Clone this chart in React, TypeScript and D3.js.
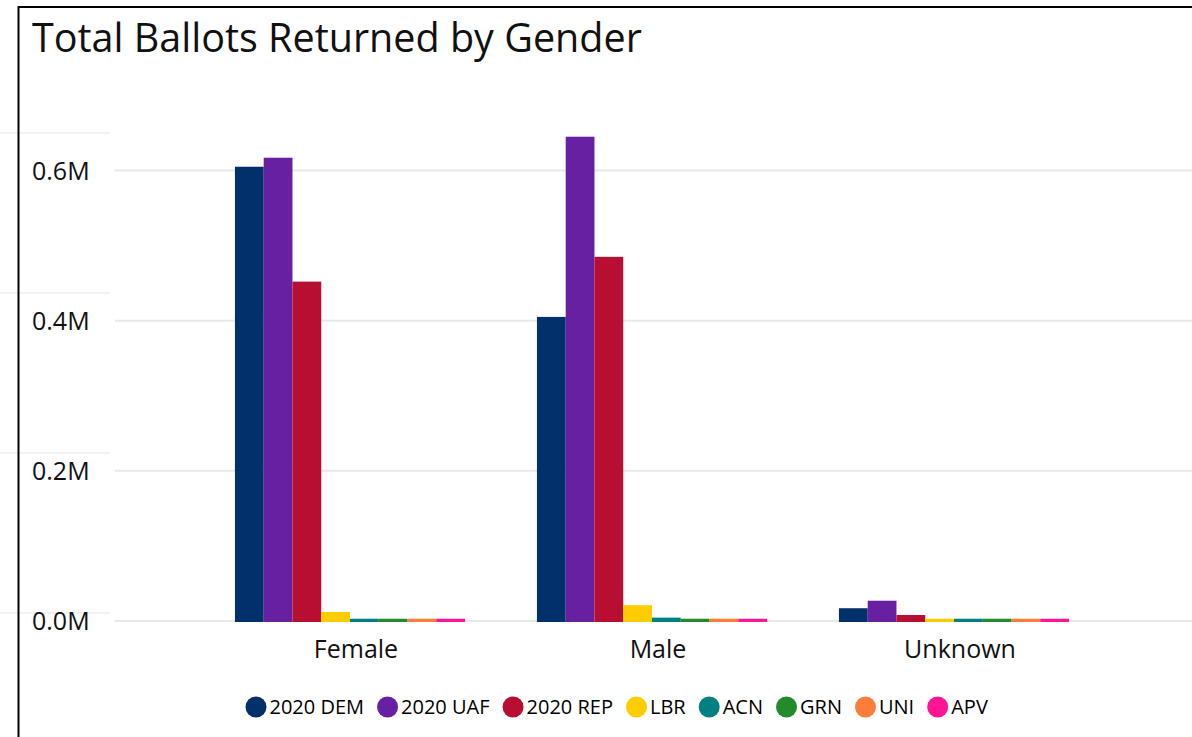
import React, { useRef, useEffect } from 'react';
import * as d3 from 'd3';

const categories = ['Female', 'Male', 'Unknown'];
const seriesNames = ['2020 DEM', '2020 UAF', '2020 REP', 'LBR', 'ACN', 'GRN', 'UNI', 'APV'];
const seriesColors = ['#01306b', '#6820a3', '#b80e31', '#ffcc00', '#008080', '#238b2b', '#ff7d3b', '#ff1493'];
// values in millions, one array per gender, in series order
const femaleValues = [0.605, 0.617, 0.452, 0.012, 0.003, 0.003, 0.003, 0.003];
const maleValues = [0.405, 0.645, 0.485, 0.021, 0.0045, 0.003, 0.003, 0.003];
const unknownValues = [0.017, 0.027, 0.008, 0.003, 0.003, 0.003, 0.003, 0.003];
const yTicks = [0, 0.2, 0.4, 0.6];

const FONT = '"Open Sans", sans-serif';

const App = () => {
  const svgRef = useRef(null);

  useEffect(() => {
    const width = 1192;
    const height = 737;
    const svg = d3.select(svgRef.current);
    svg.selectAll('*').remove();
    svg.attr('width', width).attr('height', height);

    const values = [femaleValues, maleValues, unknownValues];

    // faint lines from the visual behind the frame
    svg.append('g')
      .selectAll('line')
      .data([133, 293, 453, 613])
      .join('line')
      .attr('x1', 0)
      .attr('x2', 110)
      .attr('y1', d => d)
      .attr('y2', d => d)
      .attr('stroke', '#ececec')
      .attr('stroke-width', 1.5);

    const x0 = d3.scaleBand()
      .domain(categories)
      .range([199, 1105])
      .paddingInner(0.238)
      .paddingOuter(0.119);

    const x1 = d3.scaleBand()
      .domain(seriesNames)
      .range([0, x0.bandwidth()]);

    const y = d3.scaleLinear()
      .domain([0, 0.6])
      .range([621, 170.5]);

    // gridlines
    svg.append('g')
      .selectAll('line')
      .data(yTicks)
      .join('line')
      .attr('x1', 115)
      .attr('x2', width)
      .attr('y1', d => y(d))
      .attr('y2', d => y(d))
      .attr('stroke', '#e8e8e8')
      .attr('stroke-width', 2);

    // y labels
    svg.append('g')
      .selectAll('text')
      .data(yTicks)
      .join('text')
      .attr('x', 32)
      .attr('y', d => y(d) + 9)
      .attr('font-family', FONT)
      .attr('font-size', 25)
      .attr('fill', '#111')
      .text(d => d.toFixed(1) + 'M');

    // bars
    const groups = svg.append('g')
      .selectAll('g')
      .data(categories)
      .join('g')
      .attr('transform', d => `translate(${x0(d)},0)`);

    groups.selectAll('rect')
      .data((d, i) => seriesNames.map((s, j) => ({ s, v: values[i][j], c: seriesColors[j] })))
      .join('rect')
      .attr('x', d => x1(d.s))
      .attr('width', x1.bandwidth())
      .attr('y', d => y(d.v))
      .attr('height', d => y(0) - y(d.v) + 1)
      .attr('fill', d => d.c);

    // x labels (sit a little right of the group centre, as in the original)
    svg.append('g')
      .selectAll('text')
      .data(categories)
      .join('text')
      .attr('x', d => x0(d) + x0.bandwidth() / 2 + 6)
      .attr('y', 658)
      .attr('text-anchor', 'middle')
      .attr('font-family', FONT)
      .attr('font-size', 25)
      .attr('fill', '#111')
      .text(d => d);

    // title
    svg.append('text')
      .attr('x', 32)
      .attr('y', 52)
      .attr('font-family', FONT)
      .attr('font-size', 39.5)
      .attr('fill', '#111')
      .text('Total Ballots Returned by Gender');

    // legend
    const legend = svg.append('g');
    const r = 10.5;
    let cx = 256;
    seriesNames.forEach((name, i) => {
      legend.append('circle')
        .attr('cx', cx)
        .attr('cy', 707)
        .attr('r', r)
        .attr('fill', seriesColors[i]);
      const t = legend.append('text')
        .attr('x', cx + r + 3)
        .attr('y', 714)
        .attr('font-family', FONT)
        .attr('font-size', 20)
        .attr('fill', '#000')
        .text(name);
      const w = t.node().getComputedTextLength();
      cx = cx + r + 3 + w + 13 + r;
    });

    // frame
    svg.append('path')
      .attr('d', `M18.5,${height} L18.5,7 L${width},7`)
      .attr('fill', 'none')
      .attr('stroke', '#000')
      .attr('stroke-width', 2);
  }, []);

  return (
    <div style={{ position: 'absolute', left: 0, top: 0, background: '#fff' }}>
      <svg ref={svgRef} style={{ display: 'block' }}></svg>
    </div>
  );
};

export default App;
